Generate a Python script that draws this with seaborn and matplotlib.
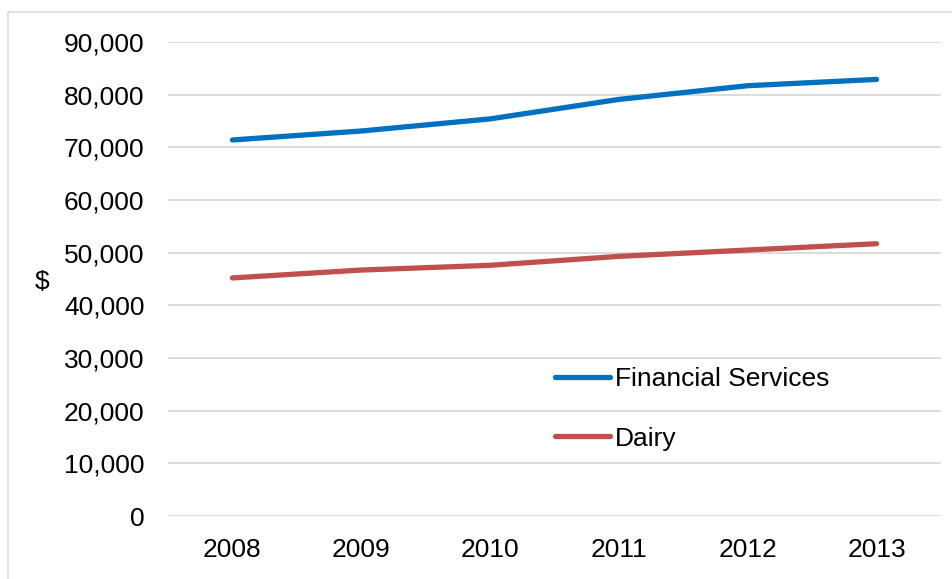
import matplotlib
matplotlib.use("Agg")
import matplotlib.pyplot as plt
from matplotlib.patches import Rectangle
from matplotlib.ticker import FuncFormatter
import seaborn as sns
import pandas as pd

# Average annual earnings by sector
years = ["2008", "2009", "2010", "2011", "2012", "2013"]
financial_services = [71400, 73100, 75400, 79100, 81700, 82900]
dairy = [45200, 46700, 47600, 49300, 50500, 51700]
series_names = ["Financial Services", "Dairy"]
y_ticks = [0, 10000, 20000, 30000, 40000, 50000, 60000, 70000, 80000, 90000]

df = pd.DataFrame({
    "year": years * 2,
    "value": financial_services + dairy,
    "series": [series_names[0]] * len(years) + [series_names[1]] * len(years),
})

sns.set_theme(style="white")
plt.rcParams["font.family"] = ["Liberation Sans", "DejaVu Sans"]
plt.rcParams["text.color"] = "black"

fig = plt.figure(figsize=(9.52, 5.79), dpi=100)
ax = fig.add_axes([168 / 952, 1 - 516 / 579, 773 / 952, 474 / 579])

palette = {series_names[0]: "#0070C0", series_names[1]: "#C0504D"}
sns.lineplot(data=df, x="year", y="value", hue="series", palette=palette,
             linewidth=3.8, ax=ax, sort=False, solid_capstyle="round")

ax.set_xlim(-0.5, len(years) - 0.5)
ax.set_ylim(0, 90000)
ax.set_yticks(y_ticks)
ax.yaxis.set_major_formatter(FuncFormatter(lambda v, _: f"{int(v):,}"))
ax.grid(axis="y", color="#D9D9D9", linewidth=1.3)
ax.grid(axis="x", visible=False)
ax.set_axisbelow(True)
for s in ax.spines.values():
    s.set_visible(False)
ax.tick_params(axis="both", length=0, labelsize=19, colors="black")
ax.tick_params(axis="y", pad=17)
ax.tick_params(axis="x", pad=16)
ax.set_xlabel("")
ax.set_ylabel("")
fig.text(42 / 952, 1 - 282 / 579, "$", fontsize=19, ha="center", va="center",
         color="black")

handles, labels = ax.get_legend_handles_labels()
leg = ax.legend(handles, labels, loc="center left", bbox_to_anchor=(0.5, 0.226),
                frameon=False, fontsize=19, handlelength=2.1, handletextpad=0.2,
                labelspacing=1.35, borderaxespad=0, borderpad=0)
for t in leg.get_texts():
    t.set_color("black")

# Chart-area border
fig.patches.append(Rectangle((8 / 952, -0.05), 1.0, 1 - 12 / 579 + 0.05,
                             transform=fig.transFigure, fill=False,
                             edgecolor="#D9D9D9", linewidth=1.2))

fig.savefig("out.png", dpi=100)
